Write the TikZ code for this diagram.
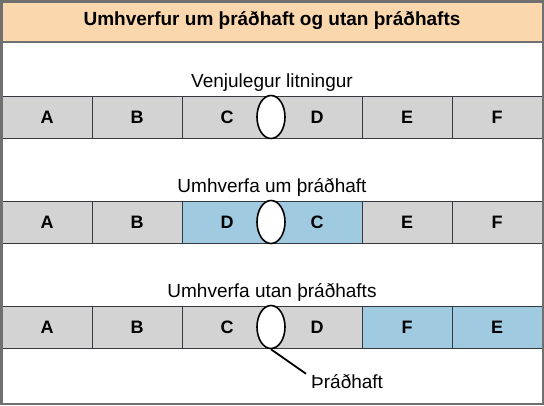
\documentclass[tikz,border=0pt]{standalone}
\usepackage{fontspec}
\setmainfont{Liberation Sans}
\usetikzlibrary{shapes.geometric}

\definecolor{framegray}{RGB}{112,112,112}
\definecolor{titleorange}{RGB}{250,215,172}
\definecolor{cellgray}{RGB}{211,211,211}
\definecolor{swapblue}{RGB}{159,202,224}
\definecolor{celledge}{RGB}{54,57,61}

\begin{document}
\begin{tikzpicture}[x=1pt,y=-1pt,
    cell/.style={draw=celledge, fill=cellgray, minimum width=90pt, minimum height=42pt, inner sep=0pt, font=\fontsize{18}{21}\selectfont\bfseries},
    swapped/.style={cell, fill=swapblue},
    centro/.style={ellipse, draw=black, fill=white, line width=1.6pt, minimum width=28pt, minimum height=43pt, inner sep=0pt},
    rowlabel/.style={font=\fontsize{19}{22}\selectfont, inner sep=0pt, anchor=base}]
    \useasboundingbox (0,0) rectangle (544,405);
    \fill[titleorange] (0,0) rectangle (544,42);
    \draw[framegray, line width=2pt] (0,42) -- (544,42);
    \node (title) at (272,21) {\fontsize{19}{22}\selectfont\bfseries Umhverfur um þráðhaft og utan þráðhafts};

    % Normal chromosome
    \node[rowlabel] (normlbl) at (272,87) {Venjulegur litningur};
    \node[cell] (a1) at (47,117) {A};
    \node[cell] (b1) at (137,117) {B};
    \node[cell] (c1) at (227,117) {C};
    \node[cell] (d1) at (317,117) {D};
    \node[cell] (e1) at (407,117) {E};
    \node[cell] (f1) at (497,117) {F};
    \node[centro] (cen1) at (271,117) {};

    % Pericentric inversion
    \node[rowlabel] (perilbl) at (272,192) {Umhverfa um þráðhaft};
    \node[cell] (a2) at (47,222) {A};
    \node[cell] (b2) at (137,222) {B};
    \node[swapped] (d2) at (227,222) {D};
    \node[swapped] (c2) at (317,222) {C};
    \node[cell] (e2) at (407,222) {E};
    \node[cell] (f2) at (497,222) {F};
    \node[centro] (cen2) at (271,222) {};

    % Paracentric inversion
    \node[rowlabel] (paralbl) at (272,297) {Umhverfa utan þráðhafts};
    \node[cell] (a3) at (47,327) {A};
    \node[cell] (b3) at (137,327) {B};
    \node[cell] (c3) at (227,327) {C};
    \node[cell] (d3) at (317,327) {D};
    \node[swapped] (f3) at (407,327) {F};
    \node[swapped] (e3) at (497,327) {E};
    \node[centro] (cen3) at (271,327) {};

    % Centromere pointer
    \node[font=\fontsize{19}{22}\selectfont, inner sep=0pt, anchor=base west] (cenlbl) at (311,388) {Þráðhaft};
    \draw[line width=1.8pt] (cen3.south) -- ([xshift=-5pt]cenlbl.north west);

    \draw[framegray, line width=2.5pt] (1.25,1.25) rectangle (542.75,403.75);
\end{tikzpicture}
\end{document}
